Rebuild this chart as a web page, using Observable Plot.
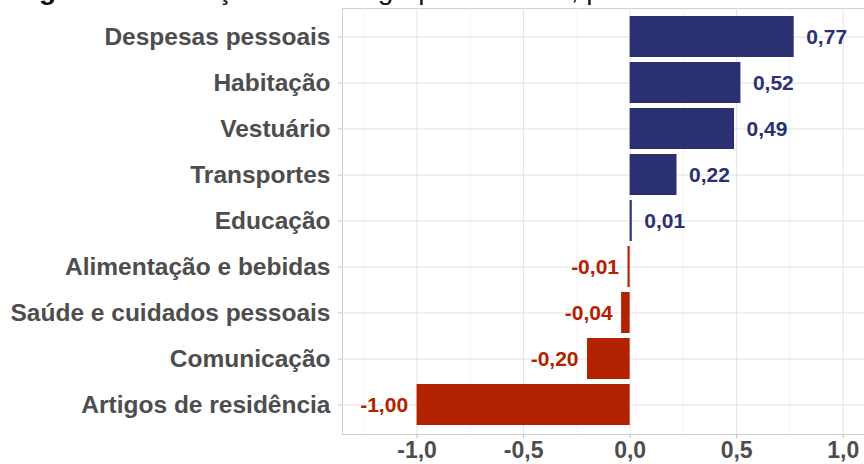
<!DOCTYPE html>
<html>
<head>
<meta charset="utf-8">
<script src="https://cdn.jsdelivr.net/npm/d3@7"></script>
<script src="https://cdn.jsdelivr.net/npm/@observablehq/plot@0.6"></script>
<style>
  html, body { margin: 0; padding: 0; background: #fff; }
  #wrap { position: relative; width: 864px; height: 464px; overflow: hidden; }
  #title { position: absolute; left: 14px; top: -26px; font-family: "Liberation Sans", Arial, sans-serif; font-size: 28px; color: #111; white-space: nowrap; }
</style>
</head>
<body>
<div id="wrap">
  <div id="chart"></div>
  <div id="title"><b>Figura 4</b> – Variação de cada grupo no índice, por item</div>
</div>
<script>
const categories = ["Despesas pessoais", "Habitação", "Vestuário", "Transportes", "Educação",
  "Alimentação e bebidas", "Saúde e cuidados pessoais", "Comunicação", "Artigos de residência"];
const values = [0.77, 0.52, 0.49, 0.22, 0.01, -0.01, -0.04, -0.20, -1.00];
const xTicks = [-1.0, -0.5, 0.0, 0.5, 1.0];
const xMinorTicks = [-1.25, -0.75, -0.25, 0.25, 0.75];

const data = categories.map((c, i) => ({cat: c, v: values[i]}));
const posData = data.filter(d => d.v >= 0);
const negData = data.filter(d => d.v < 0);
const fmt = v => v.toFixed(2).replace(".", ",");
const pos = "#2b3170", neg = "#b12300";
const font = "Liberation Sans, Arial, sans-serif";

const chart = Plot.plot({
  width: 864,
  height: 464,
  marginTop: 8,
  marginBottom: 30,
  marginLeft: 342,
  marginRight: 0,
  style: {fontFamily: font, background: "#fff"},
  x: {domain: [-1.35, 1.10], axis: null, label: null},
  y: {domain: categories, paddingInner: 0.1, paddingOuter: 0.15, axis: null, label: null},
  marks: [
    Plot.frame({stroke: "#cfcfcf", strokeWidth: 1}),
    Plot.ruleX(xMinorTicks, {stroke: "#f0f0f0", strokeWidth: 0.8}),
    Plot.ruleX(xTicks, {stroke: "#e2e2e2", strokeWidth: 1}),
    Plot.ruleY(categories, {y: d => d, stroke: "#e2e2e2", strokeWidth: 1}),
    Plot.barX(data, {y: "cat", x1: 0, x2: "v", fill: d => d.v >= 0 ? pos : neg}),
    Plot.text(posData, {y: "cat", x: "v", text: d => fmt(d.v), textAnchor: "start", dx: 12,
      fill: pos, fontWeight: "bold", fontSize: 21}),
    Plot.text(negData, {y: "cat", x: "v", text: d => fmt(d.v), textAnchor: "end", dx: -9,
      fill: neg, fontWeight: "bold", fontSize: 21}),
    Plot.axisY({tickSize: 4, tickPadding: 8, fontSize: 24.5, fontWeight: "bold", label: null}),
    Plot.axisX(xTicks, {tickSize: 4, tickPadding: 3, fontSize: 23, fontWeight: "bold", label: null,
      tickFormat: d => d.toFixed(1).replace(".", ",")})
  ]
});
document.getElementById("chart").appendChild(chart);
d3.select(chart).selectAll("[aria-label='y-axis tick'], [aria-label='x-axis tick']").attr("stroke", "#bdbdbd");
d3.select(chart).selectAll("[aria-label='y-axis tick label'], [aria-label='x-axis tick label']").attr("fill", "#4d4d4d");
</script>
</body>
</html>
